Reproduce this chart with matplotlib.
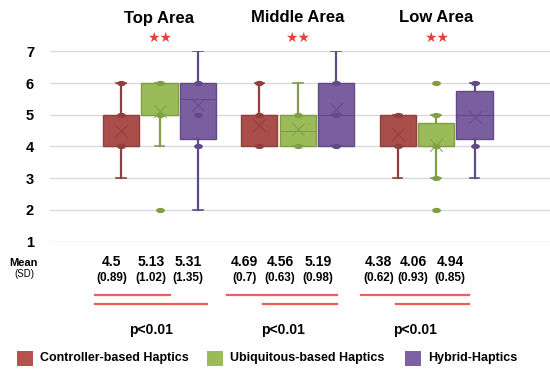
import matplotlib.pyplot as plt
from matplotlib.path import Path
from matplotlib.lines import Line2D
from matplotlib.transforms import Affine2D
import numpy as np

areas = ['Top Area', 'Middle Area', 'Low Area']
methods = ['Controller-based Haptics', 'Ubiquitous-based Haptics', 'Hybrid-Haptics']

# box stats per area, in method order
q1 = [[4, 5, 4.25], [4, 4, 4], [4, 4, 4.25]]
med = [[4, 5, 5.5], [5, 4.5, 5], [4, 4, 5]]
q3 = [[5, 6, 6], [5, 5, 6], [5, 4.75, 5.75]]
whislo = [[3, 4, 2], [4, 4, 4], [3, 3, 3]]
whishi = [[6, 6, 7], [6, 6, 7], [5, 5, 6]]
means = [[4.5, 5.13, 5.31], [4.69, 4.56, 5.19], [4.38, 4.06, 4.94]]
sds = [[0.89, 1.02, 1.35], [0.7, 0.63, 0.98], [0.62, 0.93, 0.85]]
points = [[[4, 5, 6], [5, 6], [4, 5, 6]],
          [[4, 5, 6], [4, 5], [4, 5, 6]],
          [[4, 5], [3, 4, 5], [4, 6]]]
fliers = [[[], [2], []],
          [[], [], []],
          [[], [2, 6], []]]
# significant pairs (method indices) per area
sig_pairs = [[(0, 1), (0, 2)], [(0, 2), (1, 2)], [(0, 2), (1, 2)]]
p_text = ['p<0.01', 'p<0.01', 'p<0.01']

fills = ['#a94e4b', '#9bbb59', '#7a5fa0']
edges = ['#8f3f3c', '#819d45', '#624a87']
legend_fills = ['#b5524f', '#9bbb59', '#7c62a2']

W, H = 550, 369
fig = plt.figure(figsize=(5.5, 3.69), dpi=100)
plt.rcParams['font.family'] = ['Liberation Sans', 'DejaVu Sans']
px = Affine2D().scale(1 / W, -1 / H).translate(0, 1) + fig.transFigure

ylo, yhi = 0.98, 7.02
upp = 31.73
top_px = 51.3 - (yhi - 7) * upp
bot_px = 241.7 + (1 - ylo) * upp
ax = fig.add_axes([50 / W, 1 - bot_px / H, 1 - 50 / W, (bot_px - top_px) / H])

spacing = 138.3
offsets = np.array([-0.278, 0, 0.278])
boxw = 0.262

ell = np.linspace(0, 2 * np.pi, 40)
ellipse = Path(np.column_stack([np.cos(ell), 0.6 * np.sin(ell)]), closed=True)

for g in range(3):
    for m in range(3):
        x = g + offsets[m]
        st = dict(q1=q1[g][m], med=med[g][m], q3=q3[g][m],
                  whislo=whislo[g][m], whishi=whishi[g][m],
                  mean=means[g][m], fliers=[])
        ax.bxp([st], positions=[x], widths=boxw, patch_artist=True,
               showfliers=False, capwidths=[0.07],
               boxprops=dict(facecolor=fills[m], edgecolor=edges[m], lw=1),
               medianprops=dict(color=edges[m], lw=0.8),
               whiskerprops=dict(color=edges[m], lw=1.6),
               capprops=dict(color=edges[m], lw=1.2))
        pts = points[g][m] + fliers[g][m]
        ax.scatter([x] * len(pts), pts, marker=ellipse, s=40,
                   color=edges[m], zorder=4, lw=0, clip_on=False)
        ax.scatter([x], [means[g][m]], marker='x', s=80,
                   color=edges[m], lw=0.7, zorder=4)

ax.set_xlim((50 - 159.5) / spacing, (550 - 159.5) / spacing)
ax.set_ylim(ylo, yhi)
ax.set_yticks(range(1, 8))
ax.set_xticks([])
ax.grid(axis='y', color='#d9d9d9', lw=1)
ax.set_axisbelow(True)
for s in ax.spines.values():
    s.set_visible(False)
ax.tick_params(axis='y', length=0, pad=11.5, labelsize=10.5)
for t in ax.get_yticklabels():
    t.set_fontweight('bold')

# area titles and significance stars
centers = [159.5 + g * spacing for g in range(3)]
for g in range(3):
    fig.text(centers[g], 18, areas[g], transform=px, ha='center', va='center',
             fontsize=12, fontweight='bold')
    fig.text(centers[g], 38, '★★', transform=px, ha='center', va='center',
             fontsize=10, color='#e8403a', family=['DejaVu Sans'])

# mean / SD rows
fig.text(24, 262.5, 'Mean', transform=px, ha='center', va='center',
         fontsize=8, fontweight='bold')
fig.text(24, 274, '(SD)', transform=px, ha='center', va='center', fontsize=7)
cols = [[112, 151, 188], [244.7, 280, 318.3], [378.3, 413.3, 450]]
for g in range(3):
    for m in range(3):
        fig.text(cols[g][m], 262, f'{means[g][m]:g}', transform=px,
                 ha='center', va='center', fontsize=10, fontweight='bold')
        fig.text(cols[g][m], 278, f'({sds[g][m]:g})', transform=px,
                 ha='center', va='center', fontsize=8.5, fontweight='bold')
    for r, (a, b) in enumerate(sig_pairs[g]):
        y = 295.3 + r * 8.4
        fig.add_artist(Line2D([cols[g][a] - 17.5, cols[g][b] + 19], [y, y],
                              transform=px, color='#e8504a', lw=1.6, alpha=0.9))
    fig.text((cols[g][0] + cols[g][2]) / 2 + 1, 330, p_text[g], transform=px,
             ha='center', va='center', fontsize=10, fontweight='bold')

# legend
patch_x = [17, 207, 405]
for m in range(3):
    fig.add_artist(plt.Rectangle((patch_x[m], 351), 16, 15, transform=px,
                                 color=legend_fills[m], lw=0))
    fig.text(patch_x[m] + 23, 358.5, methods[m], transform=px, ha='left',
             va='center', fontsize=9, fontweight='bold')

fig.savefig('out.png', dpi=100)
